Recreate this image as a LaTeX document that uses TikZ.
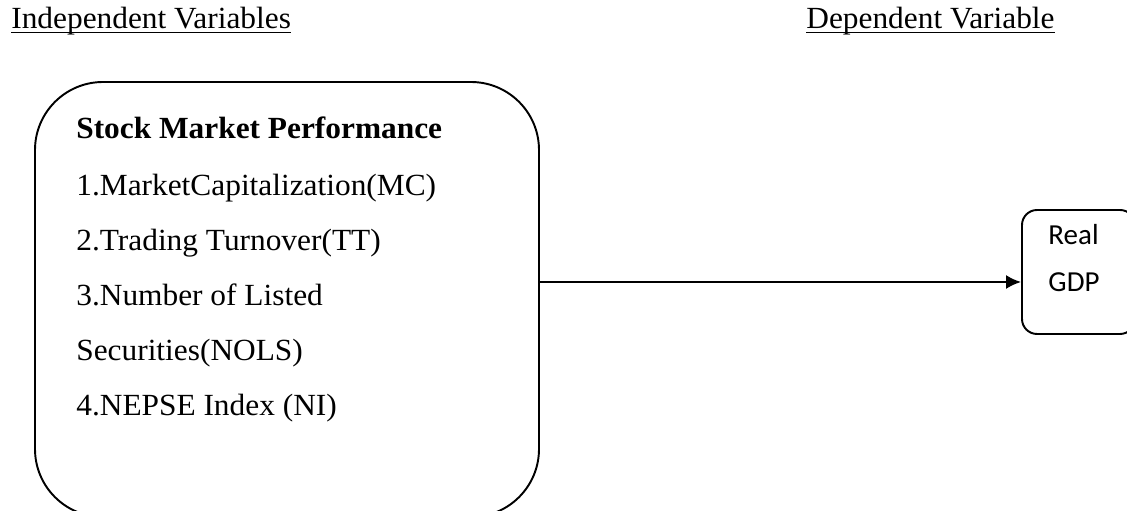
\documentclass[tikz,border=0pt]{standalone}
\usepackage{fontspec}
\setmainfont{Liberation Serif}[FakeStretch=1.02]
\newfontfamily\gdpfont{Carlito}
\usetikzlibrary{arrows.meta, positioning}

\begin{document}
\begin{tikzpicture}[
    roundbox/.style={draw=black, line width=1.1pt, rounded corners=#1},
    itemtext/.style={inner sep=0pt, anchor=base west, font=\fontsize{17.5}{21}\selectfont},
    link/.style={-{Latex[length=0.3cm, width=0.28cm]}, line width=1.1pt}
  ]
    \useasboundingbox (0,0) rectangle (22.54,10.22);

    % headings
    \node[itemtext] (indep) at (0.22,9.64) {Independent Variables};
    \node[itemtext] (dep) at (16.12,9.64) {Dependent Variable};
    \draw[line width=1.1pt] ([yshift=-0.07cm]indep.base west) -- ([yshift=-0.07cm]indep.base east);
    \draw[line width=1.1pt] ([yshift=-0.07cm]dep.base west) -- ([yshift=-0.07cm]dep.base east);

    % independent variables
    \node[roundbox=1.36cm, minimum width=10.08cm, minimum height=8.7cm] (perf) at (5.74,4.23) {};
    \node[itemtext, font=\fontsize{17.5}{21}\selectfont\bfseries] (perftitle) at (1.52,7.44) {Stock Market Performance};
    \foreach \entry [count=\i from 0] in {1.MarketCapitalization(MC), 2.Trading Turnover(TT), 3.Number of Listed, Securities(NOLS), 4.NEPSE Index (NI)}
      \node[itemtext] (item\i) at (1.52,6.3-1.1*\i) {\entry};

    % dependent variable
    \node[roundbox=0.3cm, minimum width=2.26cm, minimum height=2.48cm] (gdp) at (21.57,4.78) {};
    \node[inner sep=0pt, align=left, font=\gdpfont\fontsize{16.5}{26.7}\selectfont] (gdplabel) at (21.48,5.06) {Real\\GDP};

    \coordinate (linky) at (0,4.58);
    \draw[link] (perf.east |- linky) -- (gdp.west |- linky);
\end{tikzpicture}
\end{document}
